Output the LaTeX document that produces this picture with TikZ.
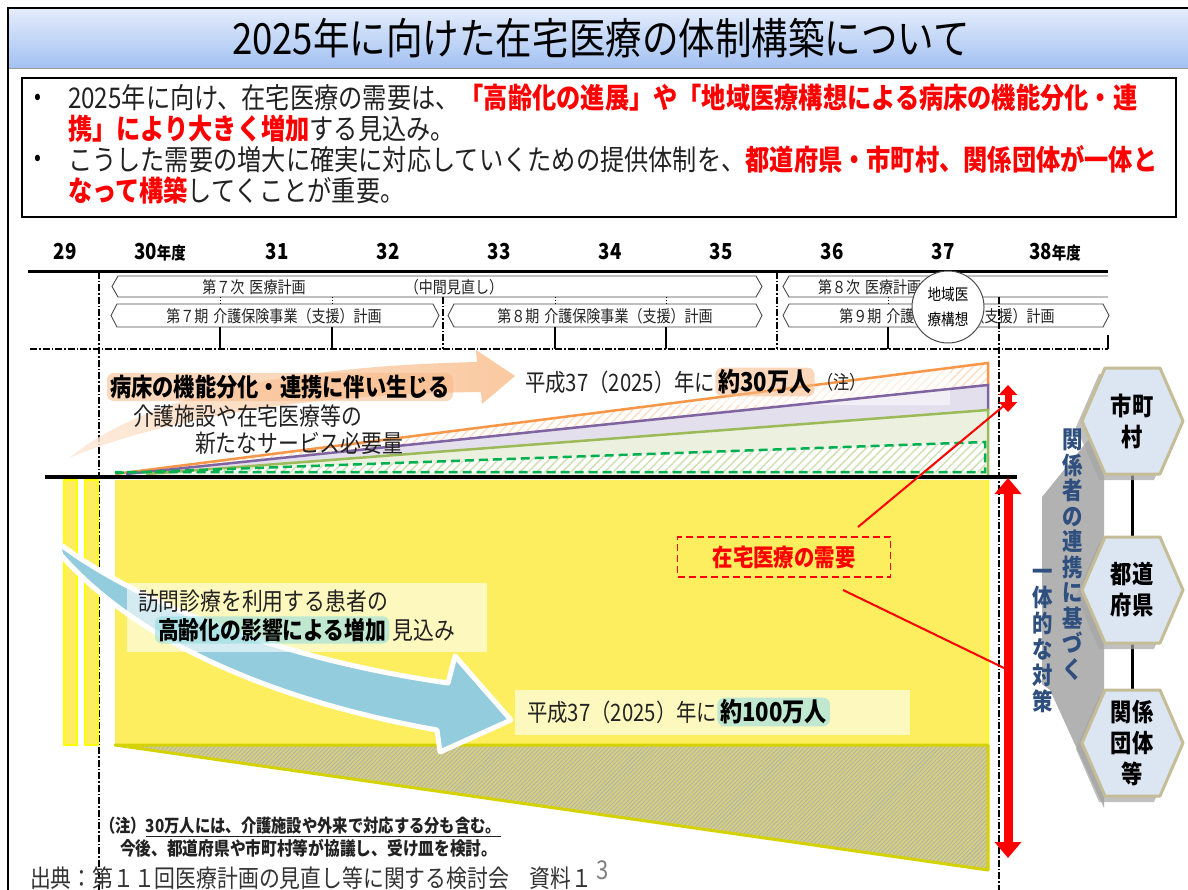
\documentclass[tikz,border=0pt]{standalone}
\usepackage{fontspec}
\setmainfont[FakeStretch=0.85]{Noto Sans CJK JP}
\usetikzlibrary{arrows.meta,patterns.meta}
\definecolor{ttop}{HTML}{E3ECFB}
\definecolor{tbot}{HTML}{A3C1F2}
\definecolor{yel}{HTML}{FCEE5E}
\definecolor{byel}{HTML}{FFFF00}
\definecolor{olv}{HTML}{D4D200}
\definecolor{trapfill}{HTML}{D6D07C}
\definecolor{orl}{HTML}{F79646}
\definecolor{pur}{HTML}{8064A2}
\definecolor{grn}{HTML}{9BBB59}
\definecolor{dgrn}{HTML}{00B050}
\definecolor{lav}{HTML}{E4DFEC}
\definecolor{lgrn}{HTML}{EBF1DE}
\definecolor{oarrow}{HTML}{FAC090}
\definecolor{barrow}{HTML}{93CDDD}
\definecolor{hexfill}{HTML}{DCE6F2}
\definecolor{hexedge}{HTML}{C4BD97}
\definecolor{vblue}{HTML}{2F4F7F}
\definecolor{glowO}{HTML}{F9B886}
\definecolor{glowC}{HTML}{8EDCE0}
\definecolor{txt}{HTML}{222222}
\newcommand\fsz[2]{\fontsize{#1}{#2}\selectfont}
\newcommand\rb[1]{\textcolor{red}{\bfseries #1}}
\newcommand\hexat[2]{(#1-50,#2) -- (#1-27,#2-53) -- (#1+28,#2-53) -- (#1+51,#2) -- (#1+28,#2+53) -- (#1-27,#2+53) -- cycle}
\begin{document}
\begin{tikzpicture}[x=1pt,y=-1pt,
  dashdot/.style={line width=1.2, dash pattern=on 7pt off 2pt on 1.5pt off 2pt},
  chev/.style={draw=black!70, line width=0.9, fill=white},
  lbl/.style={inner sep=0, outer sep=0},
  glow/.style={fill=#1, fill opacity=.55, text opacity=1, rounded corners=7pt, inner xsep=3pt, inner ysep=2pt},
  rowtxt/.style={lbl, font=\fsz{16.5}{18}, text=txt},
  yr/.style={lbl, font=\bfseries\fsz{22}{24}},
  hexa/.style={fill=hexfill, draw=hexedge, line width=3, line join=round},
  hextxt/.style={lbl, align=center, font=\bfseries\fsz{25}{31}},
  redarrow/.style={red, line width=9, {Triangle[width=26pt,length=16pt]}-{Triangle[width=26pt,length=16pt]}}
]
\useasboundingbox (0,0) rectangle (1188,890);
\fill[white] (0,0) rectangle (1188,890);
% ---------- title ----------
\shade[top color=ttop,bottom color=tbot] (9,9) rectangle (1188,68);
\draw[black!40] (9,68.5) -- (1188,68.5);
\draw[line width=2] (8,890) -- (8,8) -- (1188,8);
\node[lbl, font=\fsz{43}{48}] (title) at (601,38) {2025年に向けた在宅医療の体制構築について};
% ---------- text box ----------
\draw[line width=1.8] (22,78) rectangle (1176,217);
\node[lbl, font=\fsz{24}{26}] (d1) at (38,99) {•};
\node[lbl, font=\fsz{24}{26}] (d2) at (38,160) {•};
\node[lbl, anchor=base west, font=\fsz{28.5}{30}, text=txt] (t1) at (68,109) {2025年に向け、在宅医療の需要は、\rb{「高齢化の進展」や「地域医療構想による病床の機能分化・連}};
\node[lbl, anchor=base west, font=\fsz{28.5}{30}, text=txt] (t2) at (68,140) {\rb{携」により大きく増加}する見込み。};
\node[lbl, anchor=base west, font=\fsz{28.5}{30}, text=txt] (t3) at (68,171) {こうした需要の増大に確実に対応していくための提供体制を、\rb{都道府県・市町村、関係団体が一体と}};
\node[lbl, anchor=base west, font=\fsz{28.5}{30}, text=txt] (t4) at (68,202) {\rb{なって構築}してくことが重要。};
% ---------- years ----------
\node[yr] (y29) at (65,252) {29};
\node[yr] (y30) at (160,252) {30{\fsz{17}{18}年度}};
\node[yr] (y31) at (277,252) {31};
\node[yr] (y32) at (388,252) {32};
\node[yr] (y33) at (499,252) {33};
\node[yr] (y34) at (610,252) {34};
\node[yr] (y35) at (721,252) {35};
\node[yr] (y36) at (832,252) {36};
\node[yr] (y37) at (943,252) {37};
\node[yr] (y38) at (1055,252) {38{\fsz{17}{18}年度}};
\draw[line width=3] (28,272) -- (1108,272);
% ---------- plan rows ----------
\draw[chev] (118,276) -- (756,276) -- (762,286.5) -- (756,297) -- (118,297) -- (112,286.5) -- cycle;
\draw[chev] (1108,276) -- (789,276) -- (783,286.5) -- (789,297) -- (1108,297);
\draw[chev] (117,304) -- (433,304) -- (439,315.5) -- (433,327) -- (117,327) -- (111,315.5) -- cycle;
\draw[chev] (454,304) -- (756,304) -- (762,315.5) -- (756,327) -- (454,327) -- (448,315.5) -- cycle;
\draw[chev] (789,304) -- (1103,304) -- (1109,315.5) -- (1103,327) -- (789,327) -- (783,315.5) -- cycle;
\node[rowtxt] (p1) at (254,287) {第７次\hspace{5pt}医療計画};
\node[rowtxt] (p1b) at (454,287) {（中間見直し）};
\node[rowtxt, anchor=west] (p2) at (818,287) {第８次\hspace{5pt}医療計画};
\node[rowtxt] (k7) at (274,316) {第７期\hspace{5pt}介護保険事業（支援）計画};
\node[rowtxt] (k8) at (605,316) {第８期\hspace{5pt}介護保険事業（支援）計画};
\node[rowtxt] (k9) at (947,316) {第９期\hspace{5pt}介護保険事業（支援）計画};
% ---------- grid lines ----------
\draw[dashdot] (30,349) -- (1108,349);
\draw[line width=1.2] (1108,335) -- (1108,349);
\draw[dashdot] (99,272) -- (99,890);
\draw[dashdot] (777,272) -- (777,349);
\draw[dashdot] (443,297) -- (443,349);
\foreach \x in {220,332,555,666,888} {
  \draw[line width=1.2] (\x,327) -- (\x,349);
  \draw[line width=1, dash pattern=on 1.5pt off 1.5pt] (\x,297) -- (\x,304);
}
% ---------- yellow area ----------
\fill[yel] (115,480) rectangle (988,745);
\draw[byel, line width=2] (988,480) -- (988,745);
\filldraw[fill=yel, draw=byel, line width=2] (64,480) rectangle (77,745);
\filldraw[fill=yel, draw=byel, line width=2] (85,480) rectangle (98,745);
\fill[trapfill] (115,745) -- (988,745) -- (988,870) -- cycle;
\fill[pattern={Lines[angle=45,distance=3pt,line width=0.9pt]}, pattern color=gray!60] (115,745) -- (988,745) -- (988,870) -- cycle;
\draw[olv, line width=3, line join=round] (115,745) -- (988,745) -- (988,870) -- cycle;
\draw[dashdot] (999,297) -- (999,890);
% ---------- 30万人 wedge ----------
\fill[pattern={Lines[angle=45,distance=6pt,line width=1.5pt]}, pattern color=orl!30] (115,474) -- (988,363) -- (988,385) -- (126,474) -- cycle;
\fill[lav] (126,474) -- (988,385) -- (988,410) -- (146,474) -- cycle;
\fill[lgrn] (146,474) -- (988,410) -- (988,476) -- (146,476) -- cycle;
\fill[white] (115,473) -- (985,442) -- (985,472) -- cycle;
\fill[pattern={Lines[angle=45,distance=6pt,line width=1.5pt]}, pattern color=grn!45] (115,473) -- (985,442) -- (985,472) -- cycle;
\fill[white, opacity=.5] (520,362) rectangle (950,405);
\draw[orl, line width=2.5] (115,474) -- (988,363) -- (988,385);
\draw[pur, line width=2.5] (126,474) -- (988,385) -- (988,410);
\draw[grn, line width=2.5] (146,474) -- (988,410) -- (988,476);
\draw[dgrn, line width=2.5, dash pattern=on 9pt off 5pt] (115,473) -- (985,442) -- (985,472) -- (115,472);
\draw[line width=4] (45,477) -- (1017,477);
% ---------- orange arrow ----------
\shade[left color=oarrow!35, right color=oarrow, opacity=.85]
  (69,458) .. controls (150,392) and (300,366) .. (477,362)
  -- (476,350) -- (515,376) -- (482,404) -- (481,392)
  .. controls (300,394) and (160,420) .. (69,458) -- cycle;
\node[lbl, glow=glowO, anchor=west, font=\bfseries\fsz{25}{27}] (o1) at (107,387) {病床の機能分化・連携に伴い生じる};
\node[lbl, anchor=west, font=\fsz{24.5}{27}, text=txt] (o2) at (133,416) {介護施設や在宅医療等の};
\node[lbl, anchor=west, font=\fsz{24.5}{27}, text=txt] (o3) at (195,443) {新たなサービス必要量};
\node[lbl, anchor=west, font=\fsz{24}{27}, text=txt] (n30) at (525,382) {平成37（2025）年に};
\node[lbl, glow=glowO, anchor=west, font=\bfseries\fsz{26}{27}] (n30b) at (n30.east) {約30万人};
\node[lbl, anchor=west, font=\fsz{19}{20}, text=txt] (n30c) at ([xshift=3pt]n30b.east) {（注）};
% ---------- blue arrow ----------
\filldraw[fill=barrow, draw=white, line width=5, line join=round]
  (57,542) .. controls (150,612) and (300,662) .. (448,683)
  -- (455,656) -- (511,720) -- (440,752) -- (437,730)
  .. controls (280,702) and (140,645) .. (61,555) -- cycle;
\fill[white, opacity=.6] (127,583) rectangle (487,652);
\node[lbl, anchor=west, font=\fsz{24.5}{27}, text=txt] (h1) at (138,601) {訪問診療を利用する患者の};
\node[lbl, glow=glowC, anchor=west, font=\bfseries\fsz{24.5}{27}] (h2) at (155,630) {高齢化の影響による増加};
\node[lbl, anchor=west, font=\fsz{24.5}{27}, text=txt] (h3) at ([xshift=3pt]h2.east) {見込み};
\fill[white, opacity=.6] (515,690) rectangle (910,735);
\node[lbl, anchor=west, font=\fsz{24}{27}, text=txt] (n100) at (527,712) {平成37（2025）年に};
\node[lbl, glow=glowC, anchor=west, font=\bfseries\fsz{26}{27}] (n100b) at (n100.east) {約100万人};
% ---------- demand box ----------
\node[draw=red, dash pattern=on 7pt off 4pt, line width=1.6, minimum width=213, minimum height=40, text=red, font=\bfseries\fsz{24}{27}, inner sep=0] (demand) at (784,557) {在宅医療の需要};
\coordinate (la) at (858,527);
\coordinate (lb) at (1006,404);
\coordinate (lc) at (843,590);
\coordinate (ld) at (1004,668);
\draw[red, line width=2] (la) -- (lb);
\draw[red, line width=2] (lc) -- (ld);
% ---------- red arrows ----------
\coordinate (s1) at (1008,385);
\coordinate (s2) at (1008,412);
\draw[red, line width=7, {Triangle[width=18pt,length=10pt]}-{Triangle[width=18pt,length=10pt]}] (s1) -- (s2);
\coordinate (r1) at (1008,478);
\coordinate (r2) at (1008,858);
\draw[redarrow] (r1) -- (r2);
% ---------- right side ----------
\fill[gray!60] (1042,497) -- (1098,428) -- (1104,428) -- (1104,808) -- (1050,690) -- (1042,684) -- cycle;
\coordinate (hA) at (1132,421);
\coordinate (hB) at (1132,590);
\coordinate (hC) at (1132,743);
\draw[line width=3] (hA) -- (hB) -- (hC);
\foreach \cy in {421,590,743} {
  \fill[black!35, opacity=.7, shift={(-6,6)}] \hexat{1132}{\cy};
  \draw[hexa] \hexat{1132}{\cy};
}
\node[hextxt] (muni) at (hA) {市町\\村};
\node[hextxt] (pref) at (hB) {都道\\府県};
\node[hextxt] (org) at (hC) {関係\\団体\\等};
\node[lbl, anchor=north, text=vblue, align=center, font=\bfseries\fsz{24}{25.5}] (v1) at (1073,429) {関\\係\\者\\の\\連\\携\\に\\基\\づ\\く};
\node[lbl, anchor=north, text=vblue, align=center, font=\bfseries\fsz{24}{26}] (v2) at (1043,569) {一\\体\\的\\な\\対\\策};
% ---------- circle ----------
\node[circle, draw=black!70, line width=1, fill=white, minimum size=72, inner sep=0, align=center, font=\fsz{16}{25}] (chiiki) at (948,307) {地域医\\療構想};
% ---------- footer ----------
\node[lbl, anchor=west, font=\bfseries\fsz{18}{20}, text=txt] (f1) at (100,827) {（注）\underline{30万人には、介護施設や外来で対応する分も含む。}};
\node[lbl, anchor=west, font=\bfseries\fsz{18.5}{20}, text=txt] (f2) at (120,848) {今後、都道府県や市町村等が協議し、受け皿を検討。};
\node[lbl, anchor=west, font=\fsz{24.5}{26}, text=black!80] (src) at (30,878) {出典：第１１回医療計画の見直し等に関する検討会　資料１};
\node[lbl, font=\fsz{26}{28}, text=black!50] (pg) at (603,870) {3};
\end{tikzpicture}
\end{document}
